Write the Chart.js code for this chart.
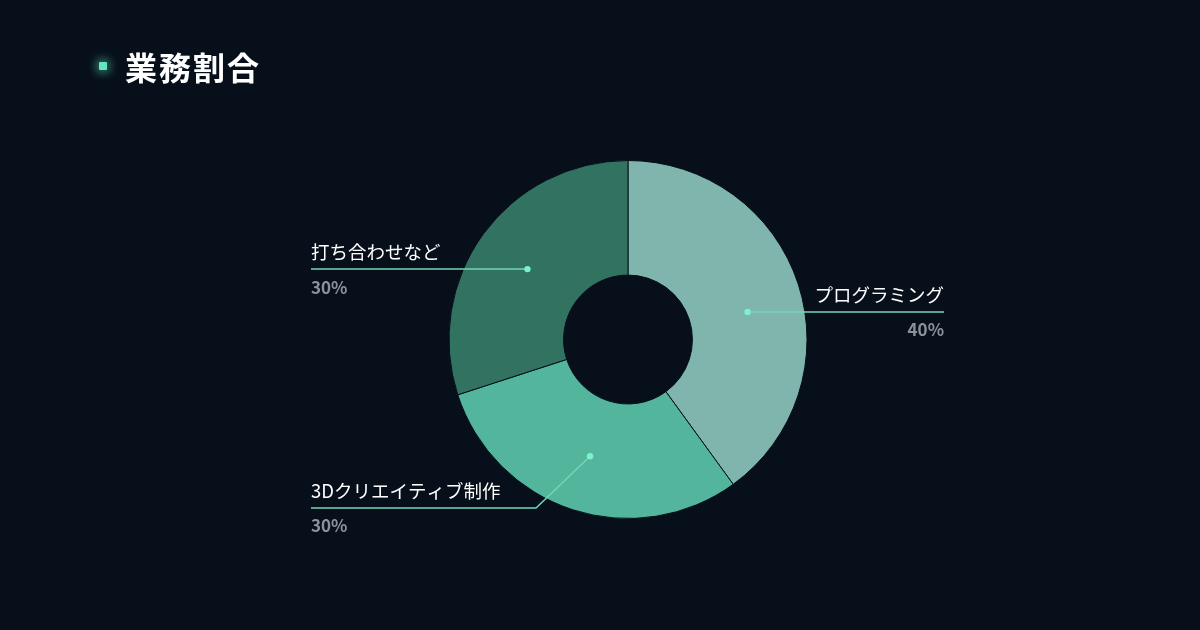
<!DOCTYPE html>
<html lang="ja">
<head>
<meta charset="utf-8">
<script src="https://cdn.jsdelivr.net/npm/chart.js@4"></script>
<style>
  html, body { margin: 0; padding: 0; background: #07101a; }
  #wrap { position: relative; width: 1200px; height: 630px; }
  #title {
    position: absolute; left: 99px; top: 46px; height: 40px;
    display: flex; align-items: center;
    font-family: "Noto Sans CJK JP", sans-serif; font-weight: 700;
    font-size: 32px; letter-spacing: 2px; color: #ffffff;
  }
  #title .mark {
    width: 8px; height: 8px; margin-right: 18px;
    background: #63e6c2; border-radius: 1px;
    box-shadow: 0 0 8px 3px rgba(99, 230, 194, 0.45);
  }
  canvas { position: absolute; left: 0; top: 0; }
</style>
</head>
<body>
<div id="wrap">
  <canvas id="pie" width="1200" height="630"></canvas>
  <div id="title"><span class="mark"></span>業務割合</div>
</div>
<script>
const labels = ['プログラミング', '3Dクリエイティブ制作', '打ち合わせなど'];
const shares = [40, 30, 30];
const colors = ['#7fb5ad', '#52b59c', '#327261'];

// label placement: which side the text sits on, the line end / elbow, angle nudge (deg)
const sides = ['right', 'left', 'left'];
const lineEnds = [944, 311, 311];
const elbows = [null, { x: 536, y: 508 }, null];
const nudges = [5, 0, -1];

const calloutPlugin = {
  id: 'callouts',
  afterDatasetsDraw(chart) {
    const ctx = chart.ctx;
    const meta = chart.getDatasetMeta(0);
    meta.data.forEach((arc, i) => {
      const p = arc.getProps(['x', 'y', 'startAngle', 'endAngle', 'innerRadius', 'outerRadius'], true);
      const mid = (p.startAngle + p.endAngle) / 2 + nudges[i] * Math.PI / 180;
      const r = (p.innerRadius + p.outerRadius) / 2 + 1;
      const dx = p.x + Math.cos(mid) * r;
      const dy = p.y + Math.sin(mid) * r;

      // line
      let lineY = dy;
      ctx.save();
      ctx.strokeStyle = '#74d6b9';
      ctx.lineWidth = 1.5;
      ctx.beginPath();
      ctx.moveTo(dx, dy);
      if (elbows[i]) {
        ctx.lineTo(elbows[i].x, elbows[i].y);
        lineY = elbows[i].y;
      }
      ctx.lineTo(lineEnds[i], lineY);
      ctx.stroke();

      // dot
      ctx.fillStyle = '#7cf0cf';
      ctx.beginPath();
      ctx.arc(dx, dy, 3.2, 0, Math.PI * 2);
      ctx.fill();

      // texts
      ctx.textAlign = sides[i] === 'right' ? 'right' : 'left';
      ctx.textBaseline = 'middle';
      ctx.fillStyle = '#ffffff';
      ctx.font = '400 18.5px "Noto Sans CJK JP", sans-serif';
      ctx.fillText(labels[i], lineEnds[i], lineY - 17);
      ctx.fillStyle = '#8b939a';
      ctx.font = '700 17px "Noto Sans CJK JP", sans-serif';
      ctx.fillText(shares[i] + '%', lineEnds[i], lineY + 18);
      ctx.restore();
    });
  }
};

new Chart(document.getElementById('pie').getContext('2d'), {
  type: 'doughnut',
  data: {
    labels: labels,
    datasets: [{
      data: shares,
      backgroundColor: colors,
      borderColor: '#07101a',
      borderWidth: 1,
      hoverOffset: 0
    }]
  },
  options: {
    responsive: false,
    animation: false,
    cutout: '36%',
    layout: {
      padding: { top: 160, bottom: 111, left: 56, right: 0 }
    },
    plugins: {
      legend: { display: false },
      tooltip: { enabled: false }
    }
  },
  plugins: [calloutPlugin]
});
</script>
</body>
</html>
